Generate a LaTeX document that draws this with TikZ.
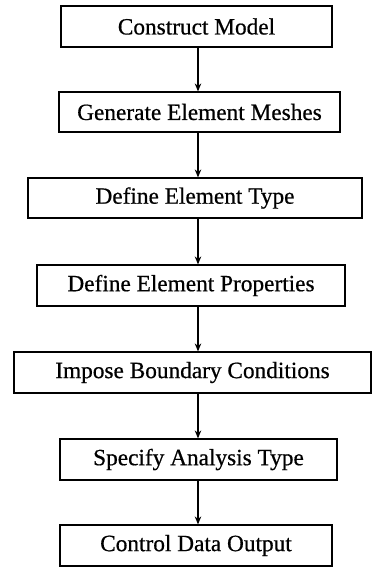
\documentclass[tikz,border=0pt]{standalone}
\usepackage{fontspec}
\setmainfont{Liberation Serif}
\newfontfamily\heavyserif[FakeBold=0.6]{Liberation Serif}
\usetikzlibrary{arrows.meta}
\begin{document}
\begin{tikzpicture}[x=1pt,y=-1pt,
  stepbox/.style={draw=black, line width=1.2pt, inner sep=0pt, font=\heavyserif\fontsize{23.3}{27}\selectfont},
  flow/.style={draw=black, line width=1.1pt, -{Stealth[length=8pt,width=6.5pt]}}]
\useasboundingbox (0,0) rectangle (372,567);
\coordinate (ax) at (198,0);
\node[stepbox, minimum width=271pt, minimum height=41pt] (b1) at (196.5,26.5) {Construct Model};
\node[stepbox, minimum width=281pt, minimum height=40pt] (b2) at (199.5,112) {Generate Element Meshes};
\node[stepbox, minimum width=334pt, minimum height=40pt] (b3) at (195,198) {Define Element Type};
\node[stepbox, minimum width=308pt, minimum height=41pt] (b4) at (191,285.5) {Define Element Properties};
\node[stepbox, minimum width=357pt, minimum height=41pt] (b5) at (192.5,372.5) {Impose Boundary Conditions};
\node[stepbox, minimum width=277pt, minimum height=41pt] (b6) at (198.5,459.5) {Specify Analysis Type};
\node[stepbox, minimum width=272pt, minimum height=41pt] (b7) at (196,545.5) {Control Data Output};
\draw[flow] (b1.south -| ax) -- (b2.north -| ax);
\draw[flow] (b2.south -| ax) -- (b3.north -| ax);
\draw[flow] (b3.south -| ax) -- (b4.north -| ax);
\draw[flow] (b4.south -| ax) -- (b5.north -| ax);
\draw[flow] (b5.south -| ax) -- (b6.north -| ax);
\draw[flow] (b6.south -| ax) -- (b7.north -| ax);
\end{tikzpicture}
\end{document}
